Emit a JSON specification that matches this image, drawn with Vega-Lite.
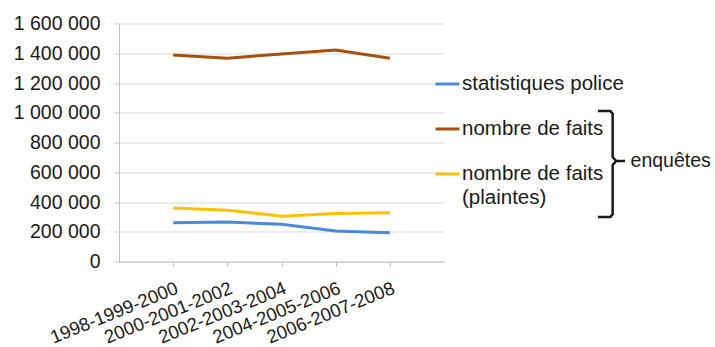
{
  "$schema": "https://vega.github.io/schema/vega-lite/v6.json",
  "width": 325,
  "height": 238,
  "autosize": "none",
  "padding": {"left": 119, "top": 23.5, "right": 271, "bottom": 85.5},
  "background": "white",
  "config": {
    "locale": {"number": {"decimal": ",", "thousands": " ", "grouping": [3], "currency": ["", " €"]}},
    "view": {"stroke": null},
    "font": "Liberation Sans",
    "axisY": {"labelFontSize": 19.5, "labelColor": "#1a1a1a", "gridColor": "#d9d9d9", "labelOverlap": false,
              "domainColor": "#bfbfbf", "tickColor": "#bfbfbf", "tickSize": 5, "labelPadding": 14}
  },
  "datasets": {
    "series": [
      {"periode": "1998-1999-2000", "serie": "statistiques police", "valeur": 260000},
      {"periode": "2000-2001-2002", "serie": "statistiques police", "valeur": 265000},
      {"periode": "2002-2003-2004", "serie": "statistiques police", "valeur": 250000},
      {"periode": "2004-2005-2006", "serie": "statistiques police", "valeur": 205000},
      {"periode": "2006-2007-2008", "serie": "statistiques police", "valeur": 193000},
      {"periode": "1998-1999-2000", "serie": "nombre de faits", "valeur": 1389000},
      {"periode": "2000-2001-2002", "serie": "nombre de faits", "valeur": 1367000},
      {"periode": "2002-2003-2004", "serie": "nombre de faits", "valeur": 1395000},
      {"periode": "2004-2005-2006", "serie": "nombre de faits", "valeur": 1422000},
      {"periode": "2006-2007-2008", "serie": "nombre de faits", "valeur": 1367000},
      {"periode": "1998-1999-2000", "serie": "nombre de faits\n(plaintes)", "valeur": 360000},
      {"periode": "2000-2001-2002", "serie": "nombre de faits\n(plaintes)", "valeur": 345000},
      {"periode": "2002-2003-2004", "serie": "nombre de faits\n(plaintes)", "valeur": 305000},
      {"periode": "2004-2005-2006", "serie": "nombre de faits\n(plaintes)", "valeur": 322000},
      {"periode": "2006-2007-2008", "serie": "nombre de faits\n(plaintes)", "valeur": 327000}
    ],
    "accolade": [
      {"ordre": 1, "ax": 1.474, "ay": 1011800},
      {"ordre": 2, "ax": 1.512, "ay": 1011800},
      {"ordre": 3, "ax": 1.519, "ay": 991600},
      {"ordre": 4, "ax": 1.519, "ay": 702500},
      {"ordre": 5, "ax": 1.530, "ay": 675600},
      {"ordre": 6, "ax": 1.557, "ay": 675600},
      {"ordre": 7, "ax": 1.530, "ay": 675600},
      {"ordre": 8, "ax": 1.519, "ay": 648700},
      {"ordre": 9, "ax": 1.519, "ay": 319300},
      {"ordre": 10, "ax": 1.512, "ay": 299200},
      {"ordre": 11, "ax": 1.474, "ay": 299200}
    ],
    "etiquette": [
      {"ax": 1.574, "ay": 675600, "texte": "enquêtes"}
    ]
  },
  "layer": [
    {
      "data": {"name": "series"},
      "mark": {"type": "line", "strokeWidth": 3},
      "encoding": {
        "x": {
          "field": "periode", "type": "ordinal", "sort": null,
          "scale": {"type": "point", "padding": 1},
          "axis": {"title": null, "labelAngle": -22, "labelFontSize": 18.5, "labelColor": "#1a1a1a",
                   "domainColor": "#bfbfbf", "tickColor": "#bfbfbf", "tickSize": 5, "grid": false, "labelPadding": 12}
        },
        "y": {
          "field": "valeur", "type": "quantitative",
          "scale": {"domain": [0, 1600000], "nice": false},
          "axis": {"title": null, "values": [0, 200000, 400000, 600000, 800000, 1000000, 1200000, 1400000, 1600000], "format": ",d"}
        },
        "color": {
          "field": "serie", "type": "nominal",
          "scale": {"domain": ["statistiques police", "nombre de faits", "nombre de faits\n(plaintes)"],
                    "range": ["#4a8ad9", "#a5510f", "#ffc000"]},
          "legend": {"title": null, "orient": "none", "legendX": 315, "legendY": 47,
                     "symbolType": "stroke", "symbolSize": 576, "symbolStrokeWidth": 3,
                     "labelFontSize": 20.5, "labelColor": "#1a1a1a", "labelExpr": "split(datum.label, '\\n')",
                     "labelBaseline": "top",
                     "rowPadding": 21, "padding": 0, "labelOffset": 1, "labelLimit": 300,
                     "encode": {"labels": {"update": {"dy": {"value": -10}, "lineHeight": {"value": 24}}}}}
        }
      }
    },
    {
      "data": {"name": "accolade"},
      "mark": {"type": "line", "color": "#1a1a1a", "strokeWidth": 2.5},
      "encoding": {
        "x": {"field": "ax", "type": "quantitative", "scale": {"domain": [0, 1]}, "axis": null},
        "y": {"field": "ay", "type": "quantitative", "scale": {"domain": [0, 1600000], "nice": false},
              "axis": {"title": null, "values": [0, 200000, 400000, 600000, 800000, 1000000, 1200000, 1400000, 1600000], "format": ",d"}},
        "order": {"field": "ordre"}
      }
    },
    {
      "data": {"name": "etiquette"},
      "mark": {"type": "text", "align": "left", "baseline": "middle", "fontSize": 19.5, "color": "#1a1a1a"},
      "encoding": {
        "x": {"field": "ax", "type": "quantitative", "scale": {"domain": [0, 1]}, "axis": null},
        "y": {"field": "ay", "type": "quantitative", "scale": {"domain": [0, 1600000], "nice": false},
              "axis": {"title": null, "values": [0, 200000, 400000, 600000, 800000, 1000000, 1200000, 1400000, 1600000], "format": ",d"}},
        "text": {"field": "texte"}
      }
    }
  ],
  "resolve": {"scale": {"x": "independent"}}
}
